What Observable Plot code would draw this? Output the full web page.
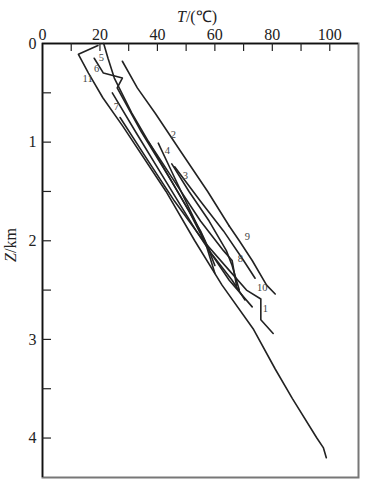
<!DOCTYPE html>
<html>
<head>
<meta charset="utf-8">
<script src="https://cdn.jsdelivr.net/npm/d3@7"></script>
<script src="https://cdn.jsdelivr.net/npm/@observablehq/plot@0.6"></script>
<style>
  html, body { margin: 0; padding: 0; background: #fff; }
  #chart { width: 368px; height: 488px; }
</style>
</head>
<body>
<div id="chart"></div>
<script>
// Axis ticks
const xTickLabels = [0, 20, 40, 60, 80, 100];
const xTickMarks = [10, 20, 30, 40, 50, 60, 70, 80, 90, 100];
const yTickLabels = [0, 1, 2, 3, 4];
const yTickMarks = [0.5, 1, 1.5, 2, 2.5, 3, 3.5, 4];

// Curves: [Z (km), T (°C)]
const line1 = [[0.75,27],[1.2,37],[1.6,46],[2.0,56],[2.3,65],[2.5,71],[2.59,76],[2.8,76],[2.94,80.3]];
const line2 = [[0.18,27.8],[0.45,33],[0.71,39.3],[1.09,48],[1.5,57.5],[1.85,65]];
const line3 = [[1.22,45],[1.5,51],[1.8,58],[2.1,64],[2.25,66],[2.5,68.5]];
const line4 = [[1.01,40.3],[1.3,45],[1.7,51.5],[2.0,56.5],[2.33,60]];
const line5 = [[0.0,21.3],[0.15,22.8],[0.35,25],[0.7,31],[1.2,41],[1.7,51],[2.1,58],[2.25,60]];
const line6 = [[0.15,18],[0.3,21.2],[0.35,27.8],[0.45,26],[0.9,34.5],[1.4,45],[1.9,55],[2.12,58.5],[2.4,65],[2.67,73]];
const line7 = [[0.5,24.3],[0.9,32.5],[1.4,43],[1.9,53.5],[2.12,58.5],[2.4,66],[2.6,70.5]];
const line8 = [[1.0,37],[1.4,46],[1.8,55],[2.1,63],[2.2,66],[2.45,67.5]];
const line9 = [[1.85,65],[2.0,68.5],[2.2,73],[2.45,78],[2.54,81]];
const line10 = [[1.25,46],[1.6,55],[1.9,63],[2.2,70],[2.38,74]];
const line11 = [[0.02,19.3],[0.11,12.5],[0.3,16],[0.55,21],[0.84,28],[1.5,43],[2.0,53],[2.45,62.5],[2.9,73.5],[3.3,81],[3.6,87],[4.0,95.5],[4.1,97.8],[4.2,98.8]];

const seriesNames = ["1","2","3","4","5","6","7","8","9","10","11"];
const seriesPoints = [line1,line2,line3,line4,line5,line6,line7,line8,line9,line10,line11];

// Curve labels
const labelNames = ["5","6","11","7","2","4","3","9","8","10","1"];
const labelT = [20.5, 18.8, 15.7, 25.7, 45.6, 43.5, 49.7, 71.3, 68.9, 76.5, 77.6];
const labelZ = [0.14, 0.25, 0.36, 0.64, 0.92, 1.09, 1.34, 1.96, 2.18, 2.47, 2.69];

const rows = seriesPoints.flatMap((pts, i) => pts.map(([Z, T]) => ({id: seriesNames[i], Z, T})));
const labels = labelNames.map((t, i) => ({t, T: labelT[i], Z: labelZ[i]}));

const W = 368, H = 488, ML = 42, MT = 43, MR = 10, MB = 11;
const innerW = W - ML - MR, innerH = H - MT - MB;

const chart = Plot.plot({
  width: W, height: H,
  marginLeft: ML, marginTop: MT, marginRight: MR, marginBottom: MB,
  style: {fontFamily: "'Liberation Serif', 'Times New Roman', serif", fontSize: "15px", color: "#222", background: "#fff"},
  x: {domain: [0, 110]},
  y: {domain: [0, 4.4], reverse: true},
  marks: [
    Plot.frame({stroke: "#777", strokeWidth: 2}),
    Plot.ruleX([0], {stroke: "#111", strokeWidth: 1.5}),
    Plot.ruleY([0], {stroke: "#111", strokeWidth: 1.5}),
    Plot.tickX(xTickMarks, {x: d => d, insetBottom: innerH - 8, stroke: "#222", strokeWidth: 1.2}),
    Plot.tickY(yTickMarks, {y: d => d, insetRight: innerW - 9, stroke: "#222", strokeWidth: 1.2}),
    Plot.axisX({anchor: "top", ticks: xTickLabels, tickFormat: d => String(d), tickSize: 0, tickPadding: 4, label: null, fontSize: 16}),
    Plot.axisY({anchor: "left", ticks: yTickLabels, tickFormat: d => String(d), tickSize: 0, tickPadding: 6, label: null, fontSize: 16}),
    Plot.line(rows, {x: "T", y: "Z", z: "id", stroke: "#222", strokeWidth: 1.6}),
    Plot.text(labels, {x: "T", y: "Z", text: "t", fontSize: 10.5, fill: "#444"})
  ]
});

const svg = d3.select(chart);
const xt = svg.append("text")
  .attr("x", 197).attr("y", 22)
  .attr("text-anchor", "middle")
  .attr("font-size", 16)
  .attr("fill", "#222");
xt.append("tspan").attr("font-style", "italic").text("T");
xt.append("tspan").text("/(℃)");

const yt = svg.append("text")
  .attr("transform", "translate(16,245) rotate(-90)")
  .attr("text-anchor", "middle")
  .attr("font-size", 16)
  .attr("fill", "#222");
yt.append("tspan").attr("font-style", "italic").text("Z");
yt.append("tspan").text("/km");

document.getElementById("chart").appendChild(chart);
</script>
</body>
</html>
